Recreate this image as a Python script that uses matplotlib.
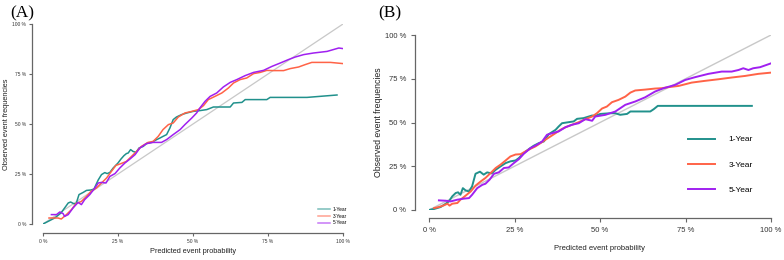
import matplotlib.pyplot as plt

# panel A: calibration curves (x = predicted %, y = observed %)
a_1y_x = [0, 1.7, 3.9, 6, 7.2, 8.4, 9.2, 10.2, 11, 12, 13.4, 14.5, 16, 17, 18.4, 19.5, 20.6, 21.4, 22.3, 23.4,
          25, 26, 27, 27.8, 28.4, 29.2, 30, 31, 32, 33.4, 34.5, 36.2, 37.9, 39, 40, 41.2, 42.3, 43.4, 44.5,
          46.2, 47.9, 50, 52.3, 54.6, 56.8, 62.4, 63.5, 66.3, 67.4, 74.6, 75.7, 88, 98]
a_1y_y = [0, 1.3, 3, 5.5, 8, 10.5, 11, 10.2, 10, 14.7, 15.8, 16.8, 17, 17.5, 22, 24.7, 25.7, 25.2, 25.8, 28,
          30.5, 32.5, 34.2, 35.2, 35.5, 37.2, 36.3, 35.8, 38, 38.8, 40.2, 40.8, 42.2, 43, 43.8, 44.7, 48, 52.2, 53.5,
          54.7, 55.5, 56.3, 56.7, 57.2, 58.5, 58.5, 60.5, 60.8, 62.2, 62.2, 63.3, 63.3, 64.5]
a_3y_x = [2, 5, 6.1, 7.8, 9.5, 11, 12.8, 14.5, 16, 17.8, 19.5, 21.2, 22.8, 24.3, 26, 27.8, 29.5, 31.2, 32.8,
          35, 36.7, 38.4, 40, 41.8, 43.4, 45.1, 47.3, 49.6, 51.8, 53.5, 55.1, 57.3, 59.6, 61.8, 63.5, 65.7,
          67.9, 70.2, 72.4, 74.6, 76.8, 80.2, 82.4, 85.2, 87.4, 89.6, 91.9, 95.8, 100]
a_3y_y = [3, 3, 2.5, 4.7, 7.2, 10.2, 11.3, 13.8, 16.3, 18, 20.5, 23, 26.3, 29.3, 30.2, 31.3, 33.8, 36.3, 38.8,
          40.8, 41.3, 43.8, 47.2, 49.7, 50.5, 53.5, 55.5, 56.3, 57.2, 59.2, 62.2, 63.8, 65.5, 68, 70.5, 72.2,
          73, 75.2, 75.8, 76.8, 76.7, 76.7, 77.7, 78.5, 79.7, 80.8, 80.8, 80.8, 80.2]
a_5y_x = [2.8, 4.5, 5.6, 6.7, 7.2, 8.4, 10, 11.7, 12.8, 13.9, 15.6, 17.3, 18.4, 19.5, 21, 22.3, 24, 25.6, 27.3,
          29, 30.7, 32.3, 34.5, 36.7, 39.5, 41.2, 43.4, 45.7, 47.3, 49.6, 51.2, 52.3, 54, 55.7, 57.9, 60.1,
          62.4, 64.6, 67.4, 70.2, 73.5, 76.3, 79.1, 81.8, 84.1, 86.9, 90.2, 94.7, 98.6, 100]
a_5y_y = [4.7, 4.7, 6, 5.2, 3.8, 4.7, 8, 10.8, 9.7, 12.2, 14.7, 18, 20.5, 20.8, 20.5, 23.8, 25.2, 28, 30.5,
          32.5, 34.7, 38, 40.2, 40.8, 40.8, 42.2, 44.7, 47.2, 49.7, 53, 55.5, 58, 61.3, 63.8, 65.5, 68.5,
          70.8, 72.2, 74.2, 75.8, 76.8, 78.8, 80.5, 82.2, 83.5, 84.7, 85.5, 86.3, 88, 87.7]

# panel B
b_1y_x = [0, 1.5, 3.4, 4.9, 5.8, 6.8, 7.8, 8.5, 9.2, 9.9, 10.7, 11.7, 12.6, 13.6, 14.9, 16, 17, 18.3, 19.5,
          20.9, 22.4, 23.8, 25.3, 26.3, 27.7, 29.2, 30.6, 32.1, 33.6, 35, 37, 37.9, 38.9, 40.9, 42.3, 43.3,
          45.2, 46.7, 47.7, 48.6, 50.1, 53, 54.5, 55.9, 57.9, 58.9, 64.7, 65.7, 66.9, 94.4]
b_1y_y = [0, 0.6, 1.7, 3.6, 4.9, 7.8, 9.7, 10.1, 8.7, 12.5, 11.2, 10.6, 13.5, 20.7, 21.9, 20.2, 21.5, 20.9, 23,
          24.9, 26.8, 27.8, 28.3, 29.7, 32.5, 34.8, 36.7, 38.2, 39.2, 43.3, 45.8, 47.7, 49.6, 50.2, 50.6, 52.1,
          52.5, 53.4, 54, 53.8, 54.9, 55.3, 55.3, 54.4, 54.9, 56.3, 56.3, 57.6, 59.5, 59.5]
b_3y_x = [1.5, 2.9, 4.4, 5.4, 6, 6.8, 8.3, 9.2, 10.7, 12.2, 13.6, 15.1, 16.5, 18, 19.5, 20.9, 22.4, 23.8,
          25.3, 26.8, 28.2, 29.7, 31.1, 32.6, 34, 35.5, 37, 38.4, 39.9, 41.8, 43.8, 45.7, 47.7, 49.1, 50.6,
          52, 53.5, 55.4, 57.4, 58.9, 60.3, 63.2, 66.1, 68.1, 70, 73, 76.8, 80.7, 84.6, 88.5, 92.4, 96.3, 100]
b_3y_y = [1.1, 1.7, 2.7, 3.6, 2.5, 3.6, 4, 5.9, 8.2, 10.6, 13.9, 16.3, 18.3, 21.1, 24, 25.9, 28.3, 30.6,
          31.7, 31.9, 33.5, 35, 36.3, 38.2, 40.1, 42, 43.9, 45.8, 47.3, 48.7, 50.2, 51.9, 53.4, 55.3, 58,
          59.1, 61.6, 62.9, 64.8, 67.1, 68.3, 68.8, 69.4, 69.6, 70.2, 70.9, 72.8, 73.8, 74.7, 75.7, 76.6, 77.8, 78.5]
b_5y_x = [2.9, 4.9, 6.3, 8.3, 10.2, 11.7, 12.6, 14.1, 15.6, 16.5, 17.7, 19, 20.4, 21.9, 23.3, 24.8, 26.3,
          27.7, 29.7, 31.6, 33.1, 34.5, 36, 37.9, 39.9, 41.8, 43.8, 45.7, 47.7, 48.6, 51.6, 54.5, 57.4, 60.3,
          63.2, 66.1, 68.6, 72, 74.9, 77.8, 81.7, 85.6, 88.5, 90.5, 91.9, 93.4, 94.8, 96.8, 100]
b_5y_y = [5.5, 5.3, 4.9, 5.9, 6.5, 6.8, 8.7, 12.5, 14.4, 15, 17.3, 20.7, 21.5, 24, 24.3, 26.8, 29.1,
          32.1, 35.4, 37.3, 39.2, 43, 43.9, 44.9, 47.3, 48.7, 49.6, 51.9, 51, 53.4, 54.4, 56.3, 60.1, 62,
          64.4, 67.7, 69.6, 71.5, 74.3, 75.9, 77.8, 79.1, 79.1, 80, 81, 80, 81, 81.6, 83.8]

ticks = [0, 25, 50, 75, 100]
tick_labels = ['0 %', '25 %', '50 %', '75 %', '100 %']
series_labels = ['1-Year', '3-Year', '5-Year']
colors = ['#21918c', '#ff6347', '#a020f0']

plt.rcParams['font.family'] = ['Liberation Sans', 'DejaVu Sans']

W, H = 784, 260
fig = plt.figure(figsize=(W / 100, H / 100), dpi=100)


def px_axes(left, top, right, bottom):
    return fig.add_axes([left / W, 1 - bottom / H, (right - left) / W, (bottom - top) / H])


def style_axes(ax, tick_fs, xlab_fs, ylab_fs, out_left, out_bottom, ticklen, pad):
    ax.set_xlim(0, 100)
    ax.set_ylim(0, 100)
    for s in ['top', 'right']:
        ax.spines[s].set_visible(False)
    ax.spines['left'].set_position(('outward', out_left))
    ax.spines['bottom'].set_position(('outward', out_bottom))
    ax.spines['left'].set_bounds(0, 100)
    ax.spines['bottom'].set_bounds(0, 100)
    for s in ['left', 'bottom']:
        ax.spines[s].set_color('#666666')
        ax.spines[s].set_linewidth(0.9)
    ax.set_xticks(ticks)
    ax.set_xticklabels(tick_labels)
    ax.set_yticks(ticks)
    ax.set_yticklabels(tick_labels)
    ax.tick_params(labelsize=tick_fs, colors='#666666', labelcolor='#333333', length=ticklen, width=0.8, pad=pad)
    ax.set_xlabel('Predicted event probability', fontsize=xlab_fs, color='#222222')
    ax.set_ylabel('Observed event frequencies', fontsize=ylab_fs, color='#222222')
    ax.patch.set_visible(False)


# ---- panel A
axA = px_axes(43, 24, 343, 224)
axA.plot([0, 100], [0, 100], color='#c8c8c8', lw=0.9, zorder=1)
axA.plot(a_1y_x, a_1y_y, color=colors[0], lw=1.1, label=series_labels[0])
axA.plot(a_3y_x, a_3y_y, color=colors[1], lw=1.1, label=series_labels[1])
axA.plot(a_5y_x, a_5y_y, color=colors[2], lw=1.1, label=series_labels[2])
style_axes(axA, 3.5, 5.3, 5.3, 8, 6.5, 2, 2)
axA.xaxis.labelpad = 3
axA.yaxis.labelpad = 2
legA = axA.legend(loc='upper left', bbox_to_anchor=(0.915, 0.085), frameon=False, fontsize=3.5,
                  handlelength=2.5, handletextpad=0.6, labelspacing=0.35, borderpad=0, borderaxespad=0)
for h in legA.get_lines():
    h.set_alpha(0.6)
fig.text(10 / W, 1 - 13 / H, '(A)', fontsize=12.5, family='Liberation Serif', va='center', ha='left')

# ---- panel B
axB = px_axes(429, 35, 771, 210)
axB.plot([0, 100], [0, 100], color='#c8c8c8', lw=1.0, zorder=1)
axB.plot(b_1y_x, b_1y_y, color=colors[0], lw=1.4, label=series_labels[0])
axB.plot(b_3y_x, b_3y_y, color=colors[1], lw=1.4, label=series_labels[1])
axB.plot(b_5y_x, b_5y_y, color=colors[2], lw=1.4, label=series_labels[2])
style_axes(axB, 5.5, 5.5, 6.3, 10, 5.8, 3, 3.5)
axB.xaxis.labelpad = 8
axB.yaxis.labelpad = 1
axB.legend(loc='upper left', bbox_to_anchor=(0.757, 0.425), frameon=False, fontsize=6,
           handlelength=3.2, handletextpad=1.7, labelspacing=2.1, borderpad=0, borderaxespad=0)
fig.text(378 / W, 1 - 13 / H, '(B)', fontsize=12.5, family='Liberation Serif', va='center', ha='left')

fig.savefig('out.png', dpi=100)
